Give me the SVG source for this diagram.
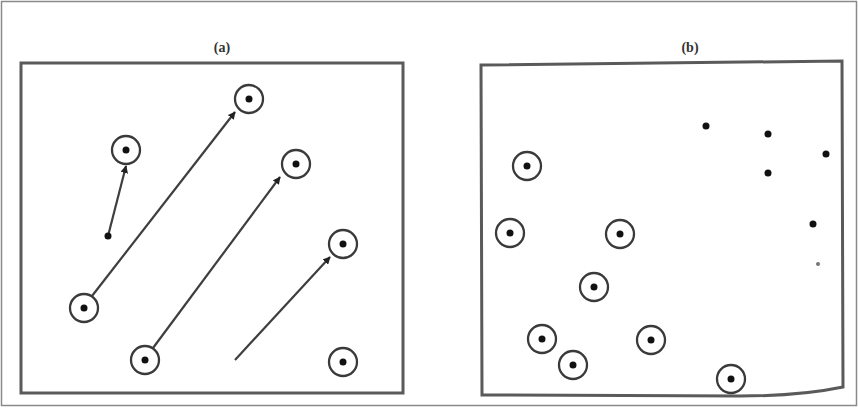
<svg xmlns="http://www.w3.org/2000/svg" width="858" height="409" viewBox="0 0 858 409">
<defs>
<style>
.frame{fill:none;stroke:#5a5a5a;stroke-width:3}
.outer{fill:none;stroke:#8a8a8a;stroke-width:1.5}
.ring{fill:none;stroke:#3a3a3a;stroke-width:2.3}
.dot{fill:#111}
.arrow{stroke:#3e3e3e;stroke-width:2.2;fill:none;marker-end:url(#ah)}
.lbl{font-family:"Liberation Serif",serif;font-size:14px;font-weight:bold;fill:#333;text-anchor:middle}
</style>
<marker id="ah" viewBox="0 0 10 10" refX="9" refY="5" markerWidth="3.5" markerHeight="3.5" orient="auto" markerUnits="strokeWidth">
<path d="M0,0 L10,5 L0,10 Z" fill="#222"/>
</marker>
<g id="ringT"><circle r="14" class="ring"/><circle r="3.5" class="dot"/></g>
</defs>
<rect x="1.5" y="1.5" width="855" height="404" class="outer"/>
<g id="panelA">
<rect x="21" y="63" width="382" height="330" class="frame"/>
<text x="222" y="52" class="lbl">(a)</text>
</g>
<g id="panelB">
<path d="M481,65 L842,61 L843,387 Q800,396 740,396 L482,395 Z" class="frame"/>
<text x="690" y="52" class="lbl">(b)</text>
</g>
<g id="connectors">
<line x1="108" y1="236" x2="126" y2="166" class="arrow"/>
<line x1="92" y1="296" x2="235" y2="112" class="arrow"/>
<line x1="153" y1="348" x2="280" y2="177" class="arrow"/>
<line x1="235" y1="360" x2="330" y2="257" class="arrow"/>
</g>
<g id="nodesA">
<use id="a1" href="#ringT" x="126" y="150"/>
<use id="a2" href="#ringT" x="249" y="99"/>
<use id="a3" href="#ringT" x="296" y="164"/>
<use id="a4" href="#ringT" x="343" y="244"/>
<use id="a5" href="#ringT" x="84" y="308"/>
<use id="a6" href="#ringT" x="145" y="360"/>
<use id="a7" href="#ringT" x="343" y="362"/>
<g id="a8"><circle cx="108" cy="236" r="3.5" class="dot"/></g>
</g>
<g id="nodesB">
<use id="b1" href="#ringT" x="527" y="166"/>
<use id="b2" href="#ringT" x="510" y="233"/>
<use id="b3" href="#ringT" x="620" y="234"/>
<use id="b4" href="#ringT" x="594" y="287"/>
<use id="b5" href="#ringT" x="542" y="339"/>
<use id="b6" href="#ringT" x="651" y="340"/>
<use id="b7" href="#ringT" x="573" y="365"/>
<use id="b8" href="#ringT" x="731" y="379"/>
<g id="b9"><circle cx="706" cy="126" r="3.5" class="dot"/></g>
<g id="b10"><circle cx="768" cy="134" r="3.5" class="dot"/></g>
<g id="b11"><circle cx="768" cy="173" r="3.5" class="dot"/></g>
<g id="b12"><circle cx="826" cy="154" r="3.5" class="dot"/></g>
<g id="b13"><circle cx="813" cy="224" r="3.5" class="dot"/></g>
<g id="b14"><circle cx="818" cy="264" r="2" fill="#777"/></g>
</g>
</svg>
